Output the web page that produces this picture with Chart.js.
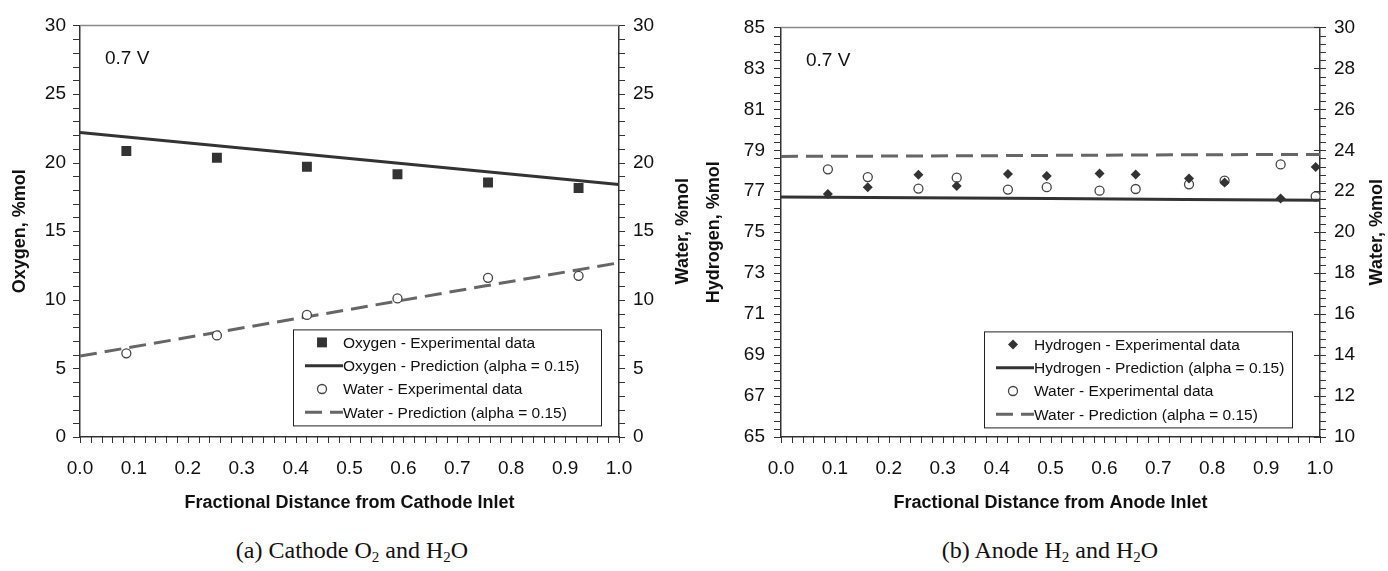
<!DOCTYPE html>
<html>
<head>
<meta charset="utf-8">
<script src="https://cdn.jsdelivr.net/npm/chart.js@4.4.1/dist/chart.umd.min.js"></script>
<style>
  body { margin: 0; background: #fff; }
  #wrap { position: relative; width: 1388px; height: 571px; overflow: hidden; }
  canvas { position: absolute; top: 0; }
  .cap { position: absolute; top: 536px; width: 400px; text-align: center; line-height: 28px;
         font-family: "Liberation Serif", "Times New Roman", serif; font-size: 24px; color: #111; }
  .cap sub { font-size: 15px; line-height: 0; vertical-align: -4px; }
</style>
</head>
<body>
<div id="wrap">
  <canvas id="cathode" width="694" height="520" style="left:0"></canvas>
  <canvas id="anode" width="694" height="520" style="left:694px"></canvas>
  <div class="cap" style="left:152px">(a) Cathode O<sub>2</sub> and H<sub>2</sub>O</div>
  <div class="cap" style="left:850px">(b) Anode H<sub>2</sub> and H<sub>2</sub>O</div>
</div>
<script>
// (a) cathode channel: measured points and model curve
var cathodeX = [0.086, 0.254, 0.421, 0.589, 0.757, 0.925];
var oxygenMeasured = [20.85, 20.35, 19.7, 19.15, 18.55, 18.15];
var waterCathodeMeasured = [6.1, 7.4, 8.9, 10.1, 11.6, 11.75];
var modelX = [0, 0.25, 0.5, 0.75, 1.0];
var oxygenModel = [22.2, 21.25, 20.3, 19.35, 18.4];
var waterCathodeModel = [5.9, 7.6, 9.3, 11.0, 12.7];

// (b) anode channel
var anodeX = [0.087, 0.161, 0.255, 0.326, 0.421, 0.493, 0.591, 0.658, 0.757, 0.823, 0.927, 0.992];
var hydrogenMeasured = [76.87, 77.2, 77.8, 77.26, 77.84, 77.74, 77.87, 77.82, 77.62, 77.43, 76.64, 78.18];
var waterAnodeMeasured = [23.07, 22.69, 22.13, 22.66, 22.08, 22.2, 22.03, 22.11, 22.34, 22.52, 23.31, 21.75];
var hydrogenModel = [76.72, 76.68, 76.64, 76.6, 76.56];
var waterAnodeModel = [23.7, 23.72, 23.75, 23.78, 23.8];

var xTicks = [0, 0.1, 0.2, 0.3, 0.4, 0.5, 0.6, 0.7, 0.8, 0.9, 1.0];

const SANS = '"Liberation Sans", Arial, Helvetica, sans-serif';
const INK = '#111';

function pts(xs, ys) {
  return xs.map((x, i) => ({ x: x, y: ys[i] }));
}

function line(ctx, x1, y1, x2, y2) {
  ctx.beginPath();
  ctx.moveTo(x1, y1);
  ctx.lineTo(x2, y2);
  ctx.stroke();
}

// top border, minor ticks, right-hand title, voltage note and boxed legend
const framePlugin = {
  id: 'frame',
  afterDraw(chart, args, opts) {
    const ctx = chart.ctx;
    const { left, right, top, bottom } = chart.chartArea;
    ctx.save();

    ctx.strokeStyle = '#8a8a8a';
    ctx.lineWidth = 1.5;
    line(ctx, left, top, right, top);

    ctx.strokeStyle = '#333';
    ctx.lineWidth = 1;
    for (const id in opts.minor) {
      const s = chart.scales[id];
      const step = opts.minor[id];
      const n = Math.round((s.max - s.min) / step);
      for (let i = 0; i <= n; i++) {
        const p = Math.round(s.getPixelForValue(s.min + i * step)) + 0.5;
        if (s.axis === 'x') line(ctx, p, bottom, p, bottom + 6);
        else if (s.position === 'left') line(ctx, left - 7, p, left, p);
        else line(ctx, right, p, right + 6, p);
      }
    }
    // major ticks on the right axis cross into the plot
    if (opts.crossRight) {
      const s = chart.scales.y2;
      s.ticks.forEach((t) => {
        const p = Math.round(s.getPixelForValue(t.value)) + 0.5;
        line(ctx, right - 6, p, right, p);
      });
    }

    ctx.fillStyle = INK;
    ctx.font = 'bold 18px ' + SANS;
    ctx.textAlign = 'center';
    ctx.textBaseline = 'middle';
    ctx.save();
    ctx.translate(opts.rightTitleX, (top + bottom) / 2);
    ctx.rotate(-Math.PI / 2);
    ctx.fillText(opts.rightTitle, 0, 0);
    ctx.restore();

    ctx.font = '19px ' + SANS;
    ctx.textAlign = 'left';
    ctx.fillText('0.7 V', left + 25, top + 33);

    // legend
    const bx = left + opts.legend.dx, by = top + opts.legend.dy;
    const bw = 308, bh = 96;
    ctx.fillStyle = '#fff';
    ctx.fillRect(bx, by, bw, bh);
    ctx.strokeStyle = '#222';
    ctx.lineWidth = 1;
    ctx.strokeRect(bx + 0.5, by + 0.5, bw, bh);
    ctx.font = '15.5px ' + SANS;
    chart.data.datasets.forEach((ds, i) => {
      const cy = by + 13 + i * 23.3;
      if (ds.showLine === false) {
        ctx.fillStyle = ds.pointBackgroundColor;
        ctx.strokeStyle = ds.pointBorderColor;
        ctx.lineWidth = ds.pointBorderWidth;
        Chart.helpers.drawPoint(ctx, {
          pointStyle: ds.pointStyle, radius: ds.pointRadius,
          rotation: 0, borderWidth: ds.pointBorderWidth
        }, bx + 29, cy);
      } else {
        ctx.strokeStyle = ds.borderColor;
        ctx.lineWidth = ds.borderWidth;
        ctx.setLineDash(ds.borderDash || []);
        line(ctx, bx + 12, cy, bx + 50, cy);
        ctx.setLineDash([]);
      }
      ctx.fillStyle = INK;
      ctx.fillText(ds.label, bx + 50, cy + 1);
    });

    ctx.restore();
  }
};

function measured(label, xs, ys, axis, style, radius, fill) {
  return {
    type: 'line', label: label, data: pts(xs, ys), yAxisID: axis,
    showLine: false, pointStyle: style, pointRadius: radius, pointHoverRadius: radius,
    pointBackgroundColor: fill, pointBorderColor: fill === '#fff' ? '#444' : fill,
    pointBorderWidth: fill === '#fff' ? 1.3 : 0
  };
}

function model(label, ys, axis, color, dash) {
  return {
    type: 'line', label: label, data: pts(modelX, ys), yAxisID: axis,
    borderColor: color, borderWidth: 3, borderDash: dash, pointRadius: 0, tension: 0
  };
}

function yAxis(pos, min, max, step, title, width, pad) {
  return {
    type: 'linear', position: pos, min: min, max: max,
    afterFit: (s) => { s.width = width; },
    grid: { display: false, drawTicks: false },
    border: { display: true, color: '#333', width: 1.5 },
    ticks: { stepSize: step, padding: pad, color: INK, font: { family: SANS, size: 19 } },
    title: title ? { display: true, text: title, color: INK, padding: { top: 9, bottom: 0 },
                     font: { family: SANS, size: 18, weight: 'bold' } } : { display: false }
  };
}

function buildChart(id, cfg) {
  return new Chart(document.getElementById(id), {
    data: { datasets: cfg.datasets },
    options: {
      responsive: false,
      animation: false,
      devicePixelRatio: 1,
      layout: { padding: { top: 22, left: 0, right: 0, bottom: 0 } },
      plugins: {
        legend: { display: false },
        tooltip: { enabled: false },
        frame: cfg.frame
      },
      scales: {
        x: {
          type: 'linear', min: 0, max: 1,
          afterFit: (s) => { s.height = 83; },
          afterBuildTicks: (s) => { s.ticks = xTicks.map(v => ({ value: v })); },
          grid: { display: false, drawTicks: false },
          border: { display: true, color: '#333', width: 1.5 },
          ticks: { padding: 20, color: INK, autoSkip: false, maxRotation: 0,
                   font: { family: SANS, size: 19 }, callback: (v) => v.toFixed(1) },
          title: { display: true, text: cfg.xTitle, color: INK, padding: { top: 0, bottom: 6 },
                   font: { family: SANS, size: 18, weight: 'bold' } }
        },
        y: cfg.y,
        y2: cfg.y2
      }
    },
    plugins: [framePlugin]
  });
}

var cathodeChart = buildChart('cathode', {
  xTitle: 'Fractional Distance from Cathode Inlet',
  datasets: [
    measured('Oxygen - Experimental data', cathodeX, oxygenMeasured, 'y', 'rect', 7, '#333'),
    model('Oxygen - Prediction (alpha = 0.15)', oxygenModel, 'y', '#333', []),
    measured('Water - Experimental data', cathodeX, waterCathodeMeasured, 'y2', 'circle', 4.5, '#fff'),
    model('Water - Prediction (alpha = 0.15)', waterCathodeModel, 'y2', '#666', [17, 8])
  ],
  y: yAxis('left', 0, 30, 5, 'Oxygen, %mol', 80, 14),
  y2: yAxis('right', 0, 30, 5, null, 75, 14),
  frame: { minor: { x: 0.02, y: 1, y2: 1 }, rightTitle: 'Water, %mol', rightTitleX: 683,
           legend: { dx: 213, dy: 304 } }
});

var anodeChart = buildChart('anode', {
  xTitle: 'Fractional Distance from Anode Inlet',
  datasets: [
    measured('Hydrogen - Experimental data', anodeX, hydrogenMeasured, 'y', 'rectRot', 5, '#333'),
    model('Hydrogen - Prediction (alpha = 0.15)', hydrogenModel, 'y', '#333', []),
    measured('Water - Experimental data', anodeX, waterAnodeMeasured, 'y2', 'circle', 4.5, '#fff'),
    model('Water - Prediction (alpha = 0.15)', waterAnodeModel, 'y2', '#666', [17, 8])
  ],
  y: yAxis('left', 65, 85, 2, 'Hydrogen, %mol', 87, 16),
  y2: yAxis('right', 10, 30, 2, null, 68, 14),
  frame: { minor: { x: 0.02, y: 0.4, y2: 0.4 }, rightTitle: 'Water, %mol', rightTitleX: 683,
           crossRight: true, legend: { dx: 203, dy: 304 } }
});
</script>
</body>
</html>
